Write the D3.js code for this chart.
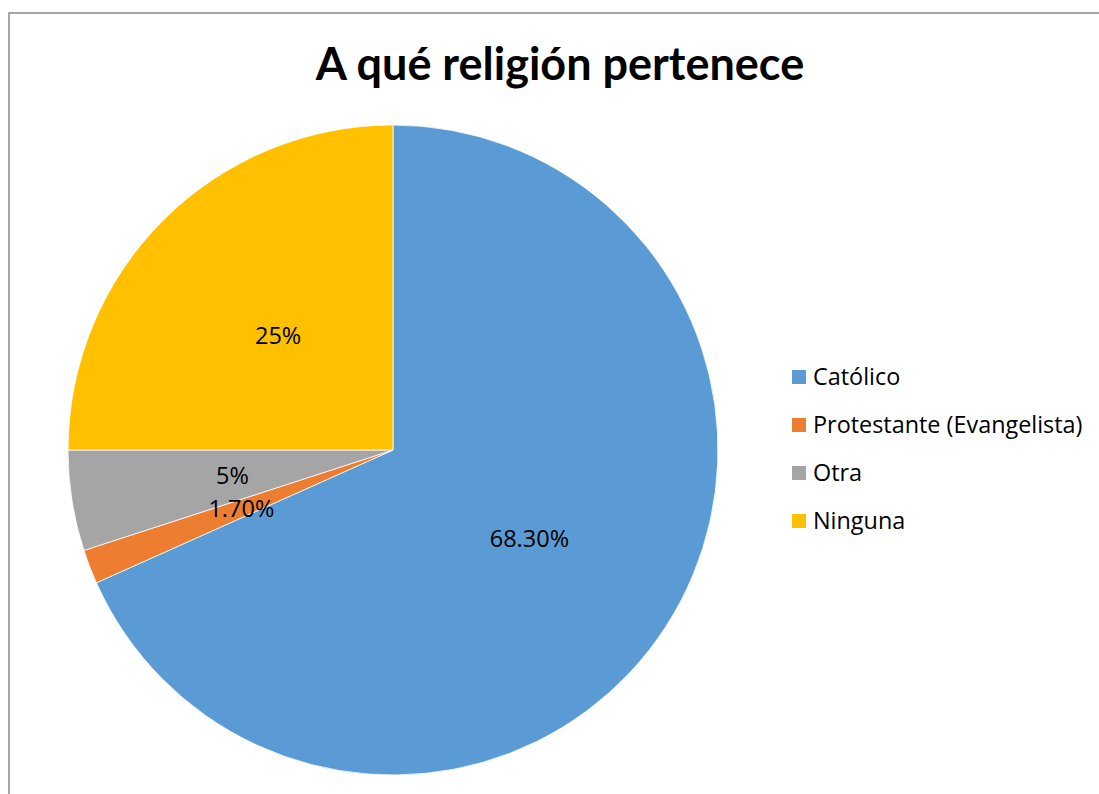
<!DOCTYPE html>
<html>
<head>
<meta charset="utf-8">
<script src="https://cdn.jsdelivr.net/npm/d3@7"></script>
<style>
  body { margin: 0; background: #fff; }
  svg { display: block; font-family: "Open Sans", Lato, sans-serif; }
</style>
</head>
<body>
<div id="container"></div>
<script>
// data
const categories = ["Católico", "Protestante (Evangelista)", "Otra", "Ninguna"];
const values = [68.3, 1.7, 5, 25];
const valueLabels = ["68.30%", "1.70%", "5%", "25%"];
const colors = ["#5B9BD5", "#ED7D31", "#A5A5A5", "#FFC000"];

const width = 1099;
const height = 794;
const cx = 393, cy = 450, radius = 325;

const svg = d3.select("#container").append("svg")
    .attr("width", width)
    .attr("height", height)
    .attr("viewBox", [0, 0, width, height]);

// chart frame (only top and left edges are visible)
svg.append("path")
    .attr("d", `M9,${height} V13 H${width}`)
    .attr("fill", "none")
    .attr("stroke", "#888")
    .attr("stroke-width", 1.5);

svg.append("text")
    .attr("x", 560)
    .attr("y", 80)
    .attr("text-anchor", "middle")
    .attr("font-family", "Lato, sans-serif")
    .attr("font-size", 45)
    .attr("font-weight", "bold")
    .attr("fill", "#000")
    .text("A qué religión pertenece");

const data = categories.map((c, i) => ({name: c, value: values[i], label: valueLabels[i], color: colors[i]}));

const pie = d3.pie().value(d => d.value).sort(null);
const arc = d3.arc().innerRadius(0).outerRadius(radius);
const labelArc = d3.arc().innerRadius(radius * 0.5).outerRadius(radius * 0.5);

const g = svg.append("g").attr("transform", `translate(${cx},${cy})`);
const arcs = pie(data);

g.selectAll("path")
  .data(arcs)
  .join("path")
    .attr("d", arc)
    .attr("fill", d => d.data.color)
    .attr("stroke", "#fff")
    .attr("stroke-width", 0.8);

g.selectAll("text")
  .data(arcs)
  .join("text")
    .attr("transform", d => `translate(${labelArc.centroid(d)})`)
    .attr("text-anchor", "middle")
    .attr("dy", "0.38em")
    .attr("font-size", 23.5)
    .attr("fill", "#000")
    .text(d => d.data.label);

// legend
const legend = svg.append("g").attr("transform", "translate(792,377)");
const row = legend.selectAll("g")
  .data(data)
  .join("g")
    .attr("transform", (d, i) => `translate(0,${i * 48})`);

row.append("rect")
    .attr("x", 0)
    .attr("y", -7)
    .attr("width", 14)
    .attr("height", 14)
    .attr("fill", d => d.color);

row.append("text")
    .attr("x", 21)
    .attr("dy", "0.36em")
    .attr("font-size", 23.4)
    .attr("fill", "#000")
    .text(d => d.name);
</script>
</body>
</html>
